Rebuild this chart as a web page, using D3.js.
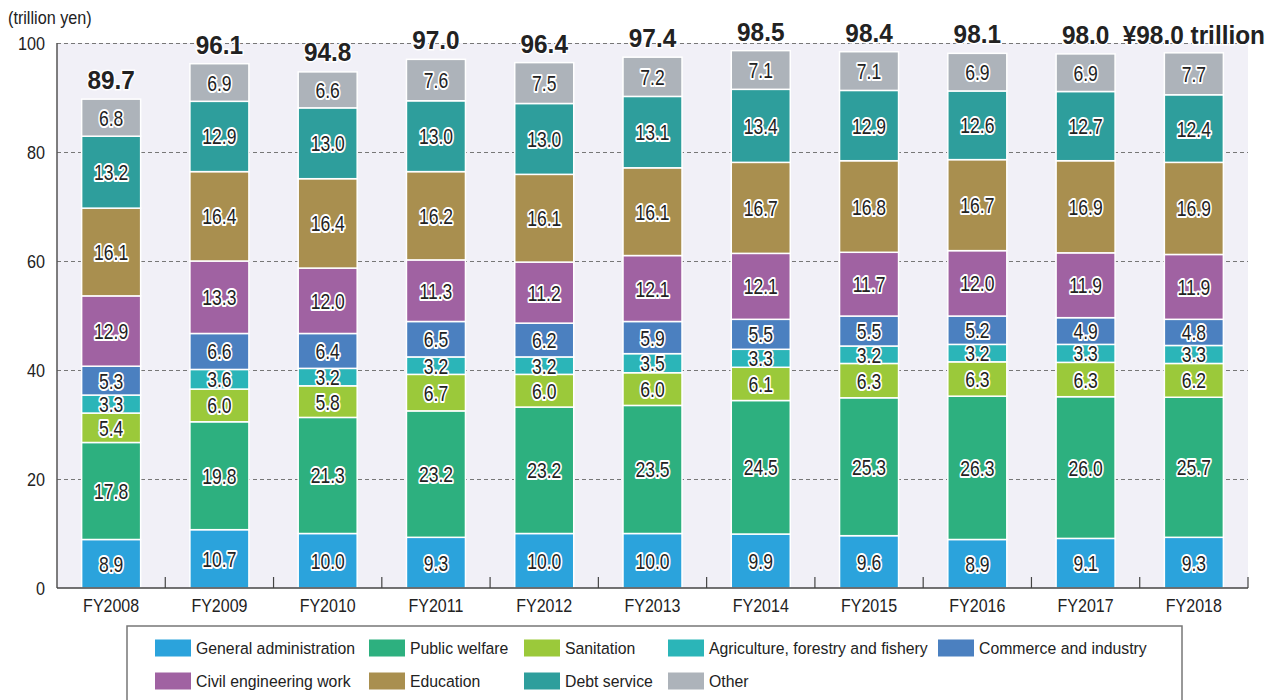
<!DOCTYPE html>
<html><head><meta charset="utf-8">
<script src="https://cdn.jsdelivr.net/npm/d3@7"></script>
<style>
body{margin:0;background:#fff;}
svg{display:block;font-family:"Liberation Sans",Arial,sans-serif;}
</style></head>
<body><svg id="c" width="1272" height="700"></svg>
<script>
const years = ["FY2008","FY2009","FY2010","FY2011","FY2012","FY2013","FY2014","FY2015","FY2016","FY2017","FY2018"];
const seriesNames = ["General administration","Public welfare","Sanitation","Agriculture, forestry and fishery","Commerce and industry","Civil engineering work","Education","Debt service","Other"];
const generalAdmin = [8.9,10.7,10.0,9.3,10.0,10.0,9.9,9.6,8.9,9.1,9.3];
const publicWelfare = [17.8,19.8,21.3,23.2,23.2,23.5,24.5,25.3,26.3,26.0,25.7];
const sanitation = [5.4,6.0,5.8,6.7,6.0,6.0,6.1,6.3,6.3,6.3,6.2];
const agriculture = [3.3,3.6,3.2,3.2,3.2,3.5,3.3,3.2,3.2,3.3,3.3];
const commerce = [5.3,6.6,6.4,6.5,6.2,5.9,5.5,5.5,5.2,4.9,4.8];
const civilEng = [12.9,13.3,12.0,11.3,11.2,12.1,12.1,11.7,12.0,11.9,11.9];
const education = [16.1,16.4,16.4,16.2,16.1,16.1,16.7,16.8,16.7,16.9,16.9];
const debtService = [13.2,12.9,13.0,13.0,13.0,13.1,13.4,12.9,12.6,12.7,12.4];
const other = [6.8,6.9,6.6,7.6,7.5,7.2,7.1,7.1,6.9,6.9,7.7];
const totals = [89.7,96.1,94.8,97.0,96.4,97.4,98.5,98.4,98.1,98.0,98.0];
const totalLabels = ["89.7","96.1","94.8","97.0","96.4","97.4","98.5","98.4","98.1","98.0","¥98.0 trillion"];
const yTicks = [0,20,40,60,80,100];
const colors = ["#2ba3dc","#2db07f","#9bc93a","#2bb5b8","#4b80c0","#a062a2","#a98f4f","#2e9e9c","#adb3ba"];

const allSeries = [generalAdmin,publicWelfare,sanitation,agriculture,commerce,civilEng,education,debtService,other];
const rows = years.map((y,i)=>{const o={year:y}; seriesNames.forEach((s,k)=>o[s]=allSeries[k][i]); return o;});

const tr = (x,y,s)=>`translate(${x},${y}) scale(${s},1)`;

const svg = d3.select("#c");
const L=57, R=1248, T=43, B=588;
const x = d3.scaleBand().domain(years).range([L,R]).paddingInner(0.455).paddingOuter(0.2275);
const y = d3.scaleLinear().domain([0,100]).range([B,T]);

svg.append("rect").attr("x",L).attr("y",T).attr("width",R-L).attr("height",B-T).attr("fill","#f1f0f7");

// gridlines
svg.append("g").selectAll("line").data(yTicks.filter(d=>d>0)).join("line")
  .attr("x1",L).attr("x2",R).attr("y1",d=>y(d)+0.5).attr("y2",d=>y(d)+0.5)
  .attr("stroke","#777").attr("stroke-width",1).attr("stroke-dasharray","4,3");

// y labels
svg.append("g").selectAll("text").data(yTicks).join("text")
  .attr("transform",d=>tr(45,y(d)+6.5,0.9)).attr("text-anchor","end")
  .attr("font-size",18).attr("fill","#222").text(d=>d);
svg.append("text").attr("transform",tr(8,24,0.9)).attr("font-size",18).attr("fill","#222").text("(trillion yen)");

// stacked bars
const stack = d3.stack().keys(seriesNames)(rows);
const g = svg.append("g");
stack.forEach((layer,k)=>{
  g.append("g").selectAll("rect").data(layer).join("rect")
    .attr("x",d=>x(d.data.year)).attr("width",x.bandwidth())
    .attr("y",d=>y(d[1])).attr("height",d=>y(d[0])-y(d[1]))
    .attr("fill",colors[k]).attr("stroke","#fff").attr("stroke-width",1.5);
});
stack.forEach((layer,k)=>{
  g.append("g").selectAll("text").data(layer).join("text")
    .attr("transform",d=>tr(x(d.data.year)+x.bandwidth()/2,(y(d[0])+y(d[1]))/2+8,0.78))
    .attr("text-anchor","middle").attr("font-size",22.5)
    .attr("fill","#222").attr("stroke","#fff").attr("stroke-width",4)
    .attr("stroke-linejoin","round").attr("paint-order","stroke")
    .text(d=>(d[1]-d[0]).toFixed(1));
});

// axes
svg.append("line").attr("x1",L).attr("x2",L).attr("y1",T).attr("y2",B).attr("stroke","#555").attr("stroke-width",1.5);
svg.append("line").attr("x1",L).attr("x2",R).attr("y1",B).attr("y2",B).attr("stroke","#444").attr("stroke-width",1.5);
svg.append("g").selectAll("line").data(years).join("line")
  .attr("x1",d=>x(d)+x.bandwidth()/2+x.step()/2).attr("x2",d=>x(d)+x.bandwidth()/2+x.step()/2)
  .attr("y1",B-11).attr("y2",B).attr("stroke","#444").attr("stroke-width",1.2);
svg.append("g").selectAll("text").data(years).join("text")
  .attr("transform",d=>tr(x(d)+x.bandwidth()/2,612,0.89)).attr("text-anchor","middle")
  .attr("font-size",18).attr("fill","#222").text(d=>d);

// totals
svg.append("g").selectAll("text").data(years).join("text")
  .attr("transform",(d,i)=>tr(x(d)+x.bandwidth()/2,y(totals[i])-10,0.92))
  .attr("text-anchor","middle").attr("font-size",26.5).attr("font-weight","bold").attr("fill","#222")
  .attr("stroke","#fff").attr("stroke-width",3).attr("paint-order","stroke")
  .text((d,i)=>totalLabels[i]);

// legend
svg.append("rect").attr("x",127).attr("y",626).attr("width",1055).attr("height",90)
  .attr("fill","#fff").attr("stroke","#777").attr("stroke-width",1.5);
const colX=[155,369,524,668,938], rowY=[648,681];
const leg = svg.append("g").selectAll("g").data(seriesNames).join("g")
  .attr("transform",(d,i)=>{const r=i<5?0:1, c=i<5?i:i-5; return `translate(${colX[c]},${rowY[r]})`;});
leg.append("rect").attr("x",0).attr("y",-8.5).attr("width",36).attr("height",17).attr("fill",(d,i)=>colors[i]);
leg.append("text").attr("transform",tr(41,6,0.93)).attr("font-size",17).attr("fill","#222").text(d=>d);
</script></body></html>
